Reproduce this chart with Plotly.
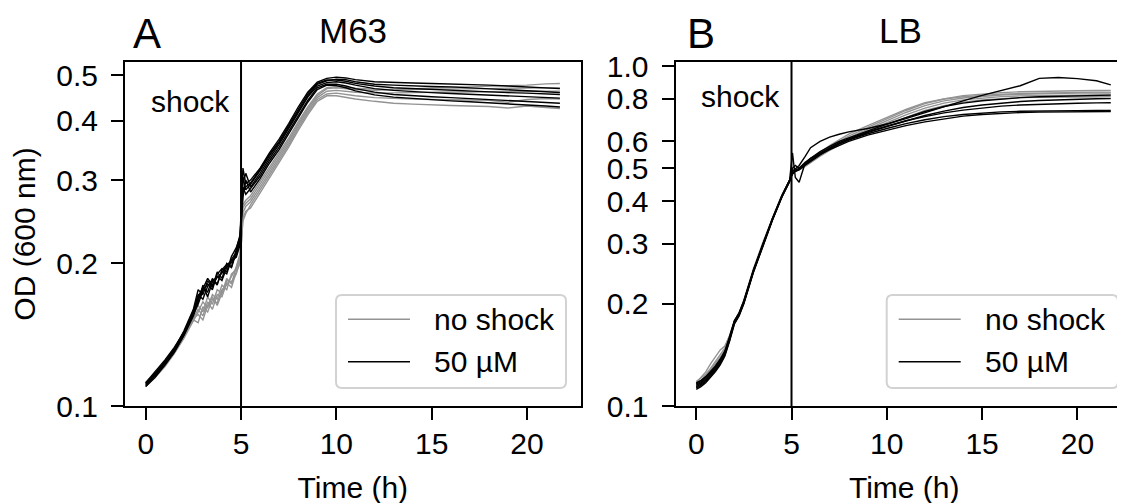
import plotly.graph_objects as go

# ---------------- data ----------------
# Panel A: M63, time grid (h)
tA = [0, 0.5, 1, 1.5, 2, 2.5, 2.75, 3, 3.25, 3.5, 3.75, 4, 4.25, 4.5, 4.75, 4.95,
      5.1, 5.25, 5.5, 6, 6.5, 7, 7.5, 8, 8.5, 9, 9.5, 10, 10.5, 11,
      12, 13, 14, 15, 16, 17, 18, 19, 20, 21, 21.73]

m63_noshock_1 = [0.111, 0.116, 0.122, 0.130, 0.140, 0.152, 0.150, 0.162, 0.158, 0.168, 0.165, 0.176, 0.180, 0.188, 0.196, 0.208, 0.262, 0.268, 0.274, 0.294, 0.316, 0.338, 0.364, 0.394, 0.424, 0.452, 0.468, 0.470, 0.468, 0.466, 0.464, 0.466, 0.468, 0.470, 0.471, 0.472, 0.473, 0.474, 0.476, 0.479, 0.480]
m63_noshock_2 = [0.112, 0.117, 0.123, 0.131, 0.141, 0.154, 0.160, 0.155, 0.166, 0.160, 0.172, 0.170, 0.182, 0.178, 0.192, 0.200, 0.250, 0.258, 0.262, 0.282, 0.304, 0.326, 0.352, 0.382, 0.412, 0.440, 0.452, 0.452, 0.448, 0.445, 0.440, 0.436, 0.434, 0.432, 0.431, 0.430, 0.429, 0.426, 0.430, 0.427, 0.425]
m63_noshock_3 = [0.110, 0.115, 0.121, 0.129, 0.139, 0.151, 0.158, 0.166, 0.161, 0.172, 0.168, 0.180, 0.176, 0.190, 0.194, 0.205, 0.256, 0.264, 0.270, 0.290, 0.312, 0.334, 0.360, 0.390, 0.420, 0.448, 0.462, 0.464, 0.462, 0.460, 0.458, 0.458, 0.459, 0.460, 0.460, 0.461, 0.461, 0.462, 0.462, 0.462, 0.462]
m63_noshock_4 = [0.111, 0.116, 0.122, 0.130, 0.140, 0.153, 0.156, 0.152, 0.163, 0.170, 0.163, 0.174, 0.184, 0.183, 0.190, 0.203, 0.246, 0.255, 0.266, 0.286, 0.308, 0.330, 0.356, 0.386, 0.416, 0.444, 0.456, 0.458, 0.455, 0.452, 0.448, 0.446, 0.445, 0.444, 0.444, 0.443, 0.442, 0.438, 0.444, 0.446, 0.445]
m63_noshock_5 = [0.112, 0.117, 0.123, 0.131, 0.141, 0.155, 0.163, 0.158, 0.170, 0.164, 0.176, 0.173, 0.186, 0.181, 0.198, 0.210, 0.266, 0.272, 0.278, 0.298, 0.320, 0.342, 0.368, 0.398, 0.428, 0.456, 0.470, 0.473, 0.471, 0.469, 0.467, 0.466, 0.466, 0.467, 0.467, 0.468, 0.468, 0.469, 0.470, 0.470, 0.470]

m63_50uM_1 = [0.110, 0.116, 0.123, 0.131, 0.142, 0.158, 0.170, 0.178, 0.174, 0.186, 0.181, 0.193, 0.190, 0.204, 0.211, 0.226, 0.305, 0.286, 0.294, 0.314, 0.338, 0.360, 0.389, 0.420, 0.452, 0.478, 0.486, 0.490, 0.489, 0.484, 0.478, 0.476, 0.474, 0.473, 0.472, 0.470, 0.468, 0.466, 0.463, 0.461, 0.459]
m63_50uM_2 = [0.112, 0.117, 0.124, 0.132, 0.144, 0.160, 0.176, 0.172, 0.184, 0.178, 0.192, 0.186, 0.200, 0.197, 0.214, 0.230, 0.318, 0.295, 0.300, 0.318, 0.343, 0.366, 0.395, 0.428, 0.460, 0.483, 0.492, 0.495, 0.493, 0.489, 0.484, 0.482, 0.481, 0.480, 0.479, 0.478, 0.476, 0.474, 0.472, 0.470, 0.468]
m63_50uM_3 = [0.111, 0.116, 0.122, 0.130, 0.141, 0.155, 0.166, 0.180, 0.170, 0.183, 0.188, 0.184, 0.196, 0.201, 0.208, 0.222, 0.290, 0.280, 0.288, 0.306, 0.330, 0.352, 0.380, 0.410, 0.442, 0.470, 0.478, 0.478, 0.474, 0.468, 0.460, 0.455, 0.452, 0.450, 0.448, 0.446, 0.444, 0.442, 0.440, 0.438, 0.436]
m63_50uM_4 = [0.112, 0.118, 0.125, 0.133, 0.143, 0.157, 0.164, 0.175, 0.181, 0.176, 0.190, 0.195, 0.192, 0.207, 0.216, 0.228, 0.296, 0.310, 0.290, 0.310, 0.334, 0.357, 0.386, 0.416, 0.449, 0.474, 0.482, 0.484, 0.481, 0.476, 0.468, 0.464, 0.461, 0.459, 0.457, 0.455, 0.453, 0.451, 0.450, 0.448, 0.447]
m63_50uM_5 = [0.111, 0.117, 0.124, 0.132, 0.143, 0.159, 0.172, 0.168, 0.179, 0.185, 0.180, 0.194, 0.199, 0.196, 0.212, 0.224, 0.282, 0.290, 0.296, 0.316, 0.340, 0.362, 0.392, 0.424, 0.456, 0.480, 0.488, 0.488, 0.485, 0.480, 0.474, 0.470, 0.468, 0.466, 0.464, 0.462, 0.460, 0.459, 0.458, 0.456, 0.455]
m63_50uM_6 = [0.110, 0.115, 0.122, 0.130, 0.141, 0.156, 0.168, 0.177, 0.186, 0.180, 0.187, 0.191, 0.198, 0.203, 0.206, 0.219, 0.276, 0.300, 0.283, 0.302, 0.326, 0.348, 0.376, 0.406, 0.438, 0.466, 0.476, 0.475, 0.470, 0.463, 0.454, 0.449, 0.446, 0.443, 0.441, 0.439, 0.437, 0.435, 0.432, 0.430, 0.428]

# Panel B: LB, time grid (h)
tB = [0, 0.25, 0.5, 0.75, 1, 1.25, 1.5, 1.75, 2, 2.25, 2.5, 3, 3.5, 4, 4.5, 4.9,
      5.05, 5.2, 5.4, 5.7, 6, 6.5, 7, 7.5, 8, 9, 10, 11, 12, 13,
      14, 15, 16, 17, 18, 19, 20, 21, 21.75]

lb_noshock_1 = [0.116, 0.119, 0.123, 0.128, 0.133, 0.139, 0.146, 0.160, 0.177, 0.187, 0.204, 0.252, 0.302, 0.357, 0.417, 0.461,
                0.490, 0.495, 0.500, 0.512, 0.528, 0.553, 0.577, 0.600, 0.622, 0.660, 0.700, 0.740, 0.775, 0.800, 0.818, 0.828, 0.835, 0.840, 0.843, 0.845, 0.846, 0.847, 0.848]
lb_noshock_2 = [0.117, 0.121, 0.126, 0.133, 0.140, 0.146, 0.150, 0.161, 0.178, 0.188, 0.205, 0.253, 0.303, 0.358, 0.418, 0.462,
                0.488, 0.494, 0.498, 0.510, 0.525, 0.550, 0.573, 0.595, 0.615, 0.652, 0.690, 0.730, 0.765, 0.790, 0.805, 0.815, 0.822, 0.826, 0.829, 0.831, 0.832, 0.833, 0.833]
lb_noshock_3 = [0.115, 0.118, 0.122, 0.127, 0.132, 0.138, 0.145, 0.159, 0.176, 0.186, 0.203, 0.251, 0.301, 0.356, 0.416, 0.460,
                0.487, 0.492, 0.497, 0.508, 0.522, 0.546, 0.568, 0.590, 0.610, 0.645, 0.680, 0.718, 0.752, 0.778, 0.795, 0.806, 0.813, 0.817, 0.819, 0.820, 0.821, 0.822, 0.822]
lb_noshock_4 = [0.114, 0.117, 0.121, 0.126, 0.131, 0.137, 0.144, 0.158, 0.175, 0.185, 0.202, 0.250, 0.300, 0.355, 0.415, 0.459,
                0.486, 0.490, 0.495, 0.506, 0.520, 0.543, 0.565, 0.586, 0.605, 0.640, 0.672, 0.708, 0.740, 0.765, 0.783, 0.795, 0.803, 0.807, 0.809, 0.810, 0.811, 0.812, 0.812]
lb_noshock_5 = [0.118, 0.121, 0.124, 0.129, 0.135, 0.142, 0.148, 0.161, 0.178, 0.188, 0.204, 0.252, 0.302, 0.357, 0.417, 0.461,
                0.492, 0.498, 0.503, 0.515, 0.532, 0.558, 0.583, 0.607, 0.630, 0.668, 0.705, 0.745, 0.780, 0.800, 0.812, 0.820, 0.826, 0.830, 0.833, 0.835, 0.837, 0.838, 0.838]

lb_50uM_1 = [0.113, 0.115, 0.118, 0.122, 0.127, 0.133, 0.141, 0.156, 0.175, 0.185, 0.201, 0.248, 0.298, 0.353, 0.413, 0.458,
             0.490, 0.500, 0.510, 0.540, 0.575, 0.600, 0.618, 0.630, 0.640, 0.655, 0.675, 0.700, 0.730, 0.760, 0.790, 0.820, 0.848, 0.875, 0.920, 0.925, 0.918, 0.905, 0.880]
lb_50uM_2 = [0.116, 0.118, 0.121, 0.125, 0.130, 0.136, 0.144, 0.159, 0.178, 0.188, 0.204, 0.251, 0.301, 0.356, 0.416, 0.462,
             0.555, 0.470, 0.455, 0.515, 0.535, 0.555, 0.575, 0.595, 0.610, 0.640, 0.665, 0.690, 0.710, 0.728, 0.742, 0.753, 0.762, 0.768, 0.772, 0.775, 0.777, 0.779, 0.780]
lb_50uM_3 = [0.114, 0.116, 0.119, 0.123, 0.128, 0.134, 0.142, 0.157, 0.176, 0.186, 0.202, 0.249, 0.299, 0.354, 0.414, 0.459,
             0.500, 0.510, 0.500, 0.520, 0.535, 0.560, 0.580, 0.600, 0.615, 0.645, 0.675, 0.705, 0.735, 0.760, 0.778, 0.790, 0.800, 0.807, 0.812, 0.815, 0.818, 0.820, 0.821]
lb_50uM_4 = [0.117, 0.119, 0.122, 0.126, 0.131, 0.137, 0.145, 0.160, 0.177, 0.187, 0.203, 0.250, 0.300, 0.355, 0.415, 0.460,
             0.480, 0.490, 0.495, 0.510, 0.525, 0.548, 0.570, 0.590, 0.607, 0.637, 0.664, 0.690, 0.715, 0.737, 0.755, 0.768, 0.778, 0.786, 0.792, 0.796, 0.799, 0.801, 0.802]
lb_50uM_5 = [0.112, 0.114, 0.117, 0.121, 0.126, 0.132, 0.140, 0.155, 0.174, 0.184, 0.200, 0.247, 0.297, 0.352, 0.412, 0.457,
             0.490, 0.495, 0.500, 0.515, 0.530, 0.553, 0.572, 0.590, 0.605, 0.632, 0.655, 0.677, 0.695, 0.710, 0.720, 0.728, 0.733, 0.736, 0.738, 0.739, 0.739, 0.740, 0.740]
lb_50uM_6 = [0.115, 0.117, 0.120, 0.124, 0.129, 0.135, 0.143, 0.158, 0.177, 0.187, 0.202, 0.250, 0.300, 0.354, 0.414, 0.461,
             0.485, 0.490, 0.497, 0.512, 0.527, 0.550, 0.568, 0.585, 0.600, 0.626, 0.648, 0.668, 0.685, 0.700, 0.712, 0.720, 0.726, 0.730, 0.732, 0.733, 0.734, 0.735, 0.735]

m63_noshock = [m63_noshock_1, m63_noshock_2, m63_noshock_3, m63_noshock_4, m63_noshock_5]
m63_50uM = [m63_50uM_1, m63_50uM_2, m63_50uM_3, m63_50uM_4, m63_50uM_5, m63_50uM_6]
lb_noshock = [lb_noshock_1, lb_noshock_2, lb_noshock_3, lb_noshock_4, lb_noshock_5]
lb_50uM = [lb_50uM_1, lb_50uM_2, lb_50uM_3, lb_50uM_4, lb_50uM_5, lb_50uM_6]

shock_time = 5
series_names = ["no shock", "50 µM"]
panel_letters = ["A", "B"]
panel_titles = ["M63", "LB"]
xticks = [0, 5, 10, 15, 20]
yticksA = [0.1, 0.2, 0.3, 0.4, 0.5]
yticksB = [0.1, 0.2, 0.3, 0.4, 0.5, 0.6, 0.8, 1.0]

# ---------------- styling / layout ----------------
FONT = "Liberation Sans, Arial, Helvetica, sans-serif"
GRAY = "#939393"
BLACK = "#000000"
W, H = 1125, 503
OFF = 8                      # page body margin of the html page
ML, MR, MT, MB = 125 - OFF, 0, 62 - OFF, H - (406 - OFF)
PW = W - ML - MR
PH = H - MT - MB
FS = 30


def px_x(p):
    # screen pixel -> paper fraction
    return (p - OFF - ML) / PW


def px_y(p):
    return (406 - p) / PH


fig = go.Figure()


def add_group(t, groups, color, xa, ya):
    for vals in groups:
        fig.add_trace(go.Scatter(x=t, y=vals, mode="lines",
                                 line=dict(color=color, width=1.4),
                                 xaxis=xa, yaxis=ya, showlegend=False,
                                 hoverinfo="skip"))


add_group(tA, m63_noshock, GRAY, "x", "y")
add_group(tA, m63_50uM, BLACK, "x", "y")
add_group(tB, lb_noshock, GRAY, "x2", "y2")
add_group(tB, lb_50uM, BLACK, "x2", "y2")

axis_common = dict(showline=True, linecolor="black", linewidth=2,
                   ticks="outside", ticklen=12, tickwidth=2, tickcolor="black",
                   showgrid=False, zeroline=False,
                   tickfont=dict(family=FONT, size=FS, color="black"))

fig.update_layout(
    width=W, height=H,
    margin=dict(l=ML, r=MR, t=MT, b=MB, autoexpand=False),
    paper_bgcolor="white", plot_bgcolor="white",
    showlegend=False,
    font=dict(family=FONT, size=FS, color="black"),
    xaxis=dict(domain=[0, px_x(580.7)], range=[-1.087, 22.82], anchor="y",
               tickvals=xticks, mirror=True, ticklabelstandoff=-2,
               title=dict(text="Time (h)", font=dict(family=FONT, size=FS), standoff=18),
               **axis_common),
    yaxis=dict(type="log", range=[-1, -0.2735], anchor="x",
               tickvals=yticksA, ticktext=[f"{v:.1f}" for v in yticksA],
               mirror=True, ticklabelstandoff=7,
               title=dict(text="OD (600 nm)", font=dict(family=FONT, size=FS), standoff=21),
               **axis_common),
    xaxis2=dict(domain=[px_x(675.5), 1.0], range=[-1.087, 22.917], anchor="y2",
                tickvals=xticks, mirror=True, ticklabelstandoff=-2,
                title=dict(text="Time (h)", font=dict(family=FONT, size=FS), standoff=18),
                **axis_common),
    yaxis2=dict(type="log", range=[-1, 0.0118], anchor="x2",
                tickvals=yticksB, ticktext=[f"{v:.1f}" for v in yticksB],
                mirror=True, ticklabelstandoff=7,
                **axis_common),
)

shapes = []
annotations = []

# shock lines + labels
for xr, yr, sx, sy in [("x", "y", 4.5, px_y(101)), ("x2", "y2", 4.48, px_y(97))]:
    shapes.append(dict(type="line", xref=xr, yref=yr + " domain",
                       x0=shock_time, x1=shock_time, y0=0, y1=1,
                       line=dict(color="black", width=2)))
    annotations.append(dict(text="shock", xref=xr, yref="paper", x=sx, y=sy,
                            xanchor="right", yanchor="middle", showarrow=False,
                            font=dict(family=FONT, size=FS, color="black")))

# panel letters and titles
for letter, title, lx, tx in [(panel_letters[0], panel_titles[0], 131, 353),
                              (panel_letters[1], panel_titles[1], 685, 900)]:
    annotations.append(dict(text=letter, xref="paper", yref="paper",
                            x=px_x(lx), y=px_y(33), xanchor="left", yanchor="middle",
                            showarrow=False, font=dict(family=FONT, size=42, color="black")))
    annotations.append(dict(text=title, xref="paper", yref="paper",
                            x=px_x(tx), y=px_y(30), xanchor="center", yanchor="middle",
                            showarrow=False, font=dict(family=FONT, size=35, color="black")))


def rounded_rect(x0, y0, x1, y1, r):
    # screen pixel coords -> paper path
    def P(x, y):
        return f"{px_x(x):.5f},{px_y(y):.5f}"
    return ("M " + P(x0 + r, y0) + " L " + P(x1 - r, y0) + " Q " + P(x1, y0) + " " + P(x1, y0 + r) +
            " L " + P(x1, y1 - r) + " Q " + P(x1, y1) + " " + P(x1 - r, y1) +
            " L " + P(x0 + r, y1) + " Q " + P(x0, y1) + " " + P(x0, y1 - r) +
            " L " + P(x0, y0 + r) + " Q " + P(x0, y0) + " " + P(x0 + r, y0) + " Z")


# legends (one per panel)
for bx0, bx1 in [(336, 566), (886.7, 1118)]:
    shapes.append(dict(type="path", xref="paper", yref="paper",
                       path=rounded_rect(bx0, 295, bx1, 388, 6),
                       fillcolor="rgba(255,255,255,0.85)",
                       line=dict(color="#d2d2d2", width=2), layer="above"))
    for name, color, ly in [(series_names[0], GRAY, 319.3), (series_names[1], BLACK, 361.7)]:
        shapes.append(dict(type="line", xref="paper", yref="paper",
                           x0=px_x(bx0 + 12), x1=px_x(bx0 + 74), y0=px_y(ly), y1=px_y(ly),
                           line=dict(color=color, width=1.5), layer="above"))
        annotations.append(dict(text=name, xref="paper", yref="paper",
                                x=px_x(bx0 + 96), y=px_y(ly), xanchor="left", yanchor="middle",
                                showarrow=False,
                                font=dict(family=FONT, size=FS, color="black")))

fig.update_layout(shapes=shapes, annotations=annotations)

fig.write_html("out.html")
